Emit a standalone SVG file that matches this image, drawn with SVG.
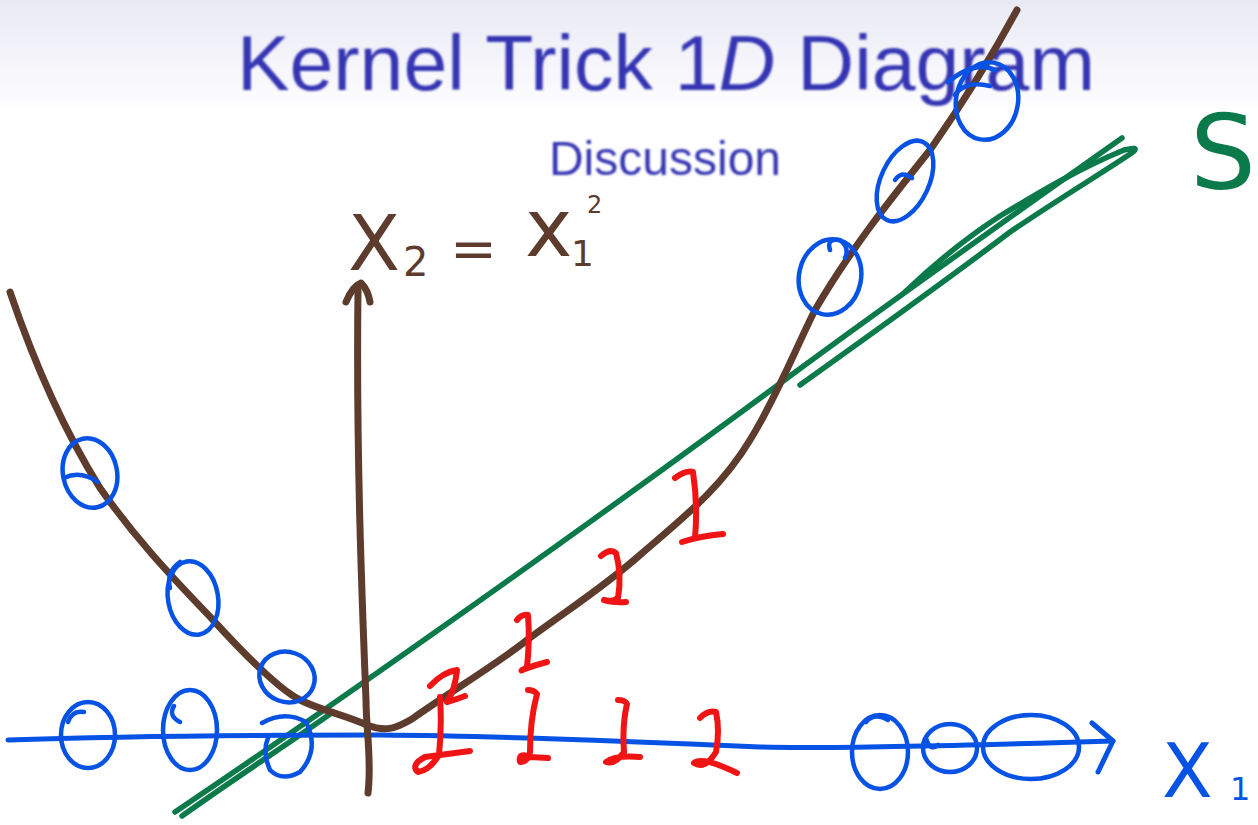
<svg xmlns="http://www.w3.org/2000/svg" width="1258" height="825" viewBox="0 0 1258 825">
<defs>
<linearGradient id="bg" x1="0" y1="0" x2="0" y2="1">
<stop offset="0" stop-color="#e9e9f4"/>
<stop offset="0.6" stop-color="#f6f6fb"/>
<stop offset="1" stop-color="#ffffff"/>
</linearGradient>
<filter id="soft" x="-5%" y="-20%" width="110%" height="140%"><feGaussianBlur stdDeviation="0.8"/></filter>
</defs>
<style>
.title{font-family:"Liberation Sans","DejaVu Sans",sans-serif;fill:#3535b3}
.brown{fill:none;stroke:#5d3c2d;stroke-width:7;stroke-linecap:round;stroke-linejoin:round}
.blue{fill:none;stroke:#0652e4;stroke-width:4.5;stroke-linecap:round;stroke-linejoin:round}
.axis{fill:none;stroke:#0652e4;stroke-width:5;stroke-linecap:round;stroke-linejoin:round}
.green{fill:none;stroke:#0b7a4b;stroke-width:5.5;stroke-linecap:round;stroke-linejoin:round}
.red{fill:none;stroke:#f01414;stroke-width:6;stroke-linecap:round;stroke-linejoin:round}
.hb{font-family:"DejaVu Sans","Liberation Sans",sans-serif;fill:#5d3c2d}
.hg{font-family:"DejaVu Sans","Liberation Sans",sans-serif;fill:#0b7a4b}
.hbl{font-family:"DejaVu Sans","Liberation Sans",sans-serif;fill:#0652e4}
</style>
<rect x="0" y="0" width="1258" height="825" fill="#ffffff"/>
<rect x="0" y="0" width="1258" height="115" fill="url(#bg)"/>

<g id="title" filter="url(#soft)">
<text class="title" x="237" y="90" font-size="78" textLength="858" lengthAdjust="spacingAndGlyphs">Kernel Trick 1<tspan font-style="italic">D</tspan> Diagram</text>
<text class="title" x="665" y="175" font-size="48" text-anchor="middle">Discussion</text>
</g>

<g id="green-separator">
<path class="green" d="M175,812 C400,660 650,480 790,376 C900,295 1020,210 1122,138"/>
<path class="green" d="M182,816 C235,778 288,744 333,712"/>
<path class="green" d="M800,385 C870,335 960,270 1010,232 C1060,198 1110,168 1133,152 Q1140,146 1124,150 C1080,168 1040,192 1000,216 C960,242 930,268 905,292"/>
</g>

<g id="x1-axis">
<path class="axis" d="M8,740 C120,736 260,735 380,735 C500,736 650,742 760,747 C830,749 950,746 1113,741"/>
<path class="axis" d="M1092,723 L1113,741 L1098,772"/>
</g>

<g id="x2-axis">
<path class="brown" d="M368,793 C372,760 366,730 366,700 C362,600 356,450 358,290"/>
<path class="brown" d="M346,302 Q352,287 361,283 Q368,290 370,302"/>
</g>

<g id="parabola">
<path class="brown" d="M10,292 C40,380 70,440 100,488 C140,545 180,585 213,620 C245,655 280,690 300,700 C320,710 345,715 367,725 C385,732 395,729 412,719 C450,692 500,662 527,640 C570,608 600,590 640,555 C680,520 720,490 750,440 C775,400 795,350 815,310 C850,250 890,200 930,150 C965,100 990,60 1017,10"/>
</g>

<g id="blue-points-axis">
<ellipse class="blue" cx="88" cy="735" rx="27" ry="33"/>
<path class="blue" d="M68,722 Q72,710 84,712"/>
<ellipse class="blue" cx="190" cy="730" rx="27" ry="40"/>
<path class="blue" d="M174,706 Q168,716 180,722"/>
<path class="blue" d="M262,723 Q285,710 306,722 Q320,750 300,772 Q282,782 270,770 Q262,752 268,738"/>
<ellipse class="blue" cx="880" cy="752" rx="28" ry="37"/>
<path class="blue" d="M866,722 Q874,712 888,720"/>
<ellipse class="blue" cx="950" cy="748" rx="27" ry="24"/>
<path class="blue" d="M926,738 Q930,752 938,745"/>
<ellipse class="blue" cx="1031" cy="747" rx="48" ry="32"/>
</g>

<g id="blue-points-curve">
<ellipse class="blue" cx="90" cy="473" rx="27" ry="35" transform="rotate(-12 90 473)"/>
<path class="blue" d="M64,478 Q80,470 98,482"/>
<ellipse class="blue" cx="193" cy="598" rx="25" ry="37" transform="rotate(-10 193 598)"/>
<path class="blue" d="M180,562 Q166,572 170,588"/>
<ellipse class="blue" cx="287" cy="677" rx="28" ry="25" transform="rotate(20 287 677)"/>
<ellipse class="blue" cx="830" cy="277" rx="31" ry="38" transform="rotate(12 830 277)"/>
<path class="blue" d="M830,250 Q826,238 840,240 Q850,248 845,258"/>
<ellipse class="blue" cx="905" cy="181" rx="24" ry="43" transform="rotate(25 905 181)"/>
<path class="blue" d="M895,180 Q902,170 912,178"/>
<ellipse class="blue" cx="987" cy="101" rx="31" ry="39" transform="rotate(10 987 101)"/>
<path class="blue" d="M948,82 Q975,60 995,70 M955,95 Q965,80 990,86"/>
</g>

<g id="red-points">
<path class="red" d="M675,478 Q686,470 693,472 Q698,505 695,538 M682,542 Q700,536 723,534"/>
<path class="red" d="M601,556 Q610,548 616,553 Q622,575 618,598 Q610,603 604,600 M604,600 Q615,603 626,602"/>
<path class="red" d="M517,620 Q522,614 528,615 Q530,640 527,667 Q520,672 522,670 Q535,665 547,662"/>
<path class="red" d="M430,686 Q443,672 457,670 Q455,690 447,702 Q455,700 465,696"/>
<path class="red" d="M440,697 Q442,725 439,755 Q430,770 418,772 Q410,765 425,757 L470,751"/>
<path class="red" d="M528,690 Q534,690 537,694 Q530,720 530,752 Q528,762 520,762 Q518,752 530,757 L548,758"/>
<path class="red" d="M618,700 Q625,700 627,704 Q622,725 624,752 Q615,765 606,762 Q615,755 640,757"/>
<path class="red" d="M700,718 Q708,710 716,712 Q720,730 716,752 Q705,770 694,763 Q702,756 737,773"/>
</g>

<g id="labels">
<text class="hb" x="348" y="270" font-size="76">X</text>
<text class="hb" x="403" y="276" font-size="40">2</text>
<text class="hb" x="450" y="268" font-size="56">=</text>
<text class="hb" x="525" y="256" font-size="80">x</text>
<text class="hb" x="571" y="266" font-size="36">1</text>
<text class="hb" x="587" y="213" font-size="24">2</text>
<text class="hg" x="1190" y="189" font-size="104">S</text>
<text class="hbl" x="1162" y="797" font-size="74">X</text>
<text class="hbl" x="1230" y="800" font-size="32">1</text>
</g>
</svg>
